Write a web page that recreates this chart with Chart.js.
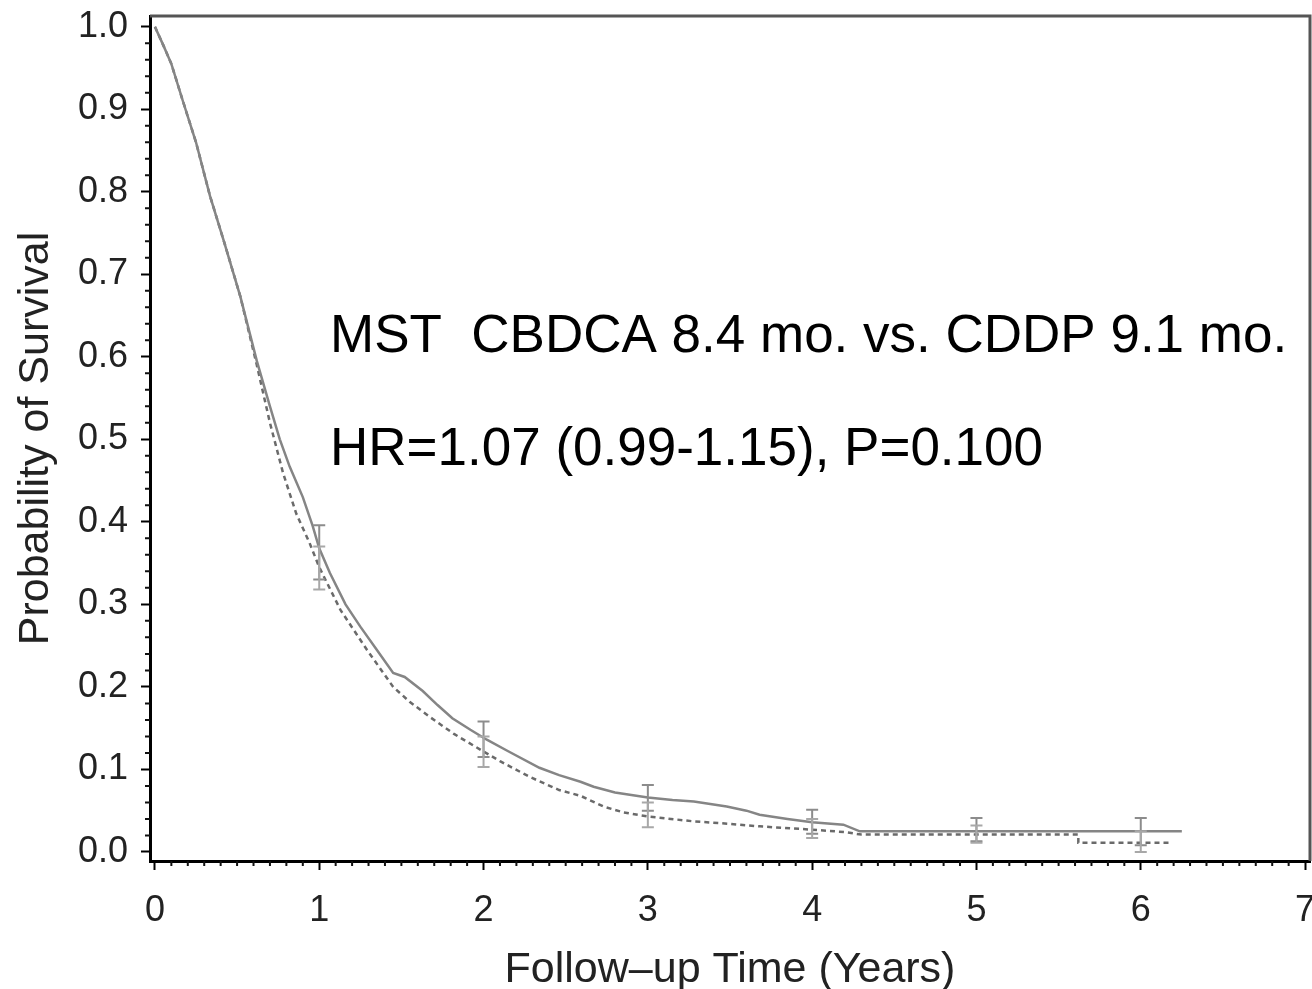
<!DOCTYPE html>
<html>
<head>
<meta charset="utf-8">
<title>Kaplan-Meier survival: CBDCA vs CDDP</title>
<script src="https://cdn.jsdelivr.net/npm/chart.js@4"></script>
<style>
  html, body { margin: 0; padding: 0; background: #fff; overflow: hidden; }
  canvas { display: block; }
</style>
</head>
<body>
<canvas id="km" width="1312" height="989"></canvas>
<script>
// Kaplan-Meier overall survival, two arms

// solid curve (CDDP)
const cddpTime = [0, 0.05, 0.1, 0.17, 0.25, 0.335, 0.42, 0.52, 0.62, 0.7, 0.76, 0.82, 0.9, 0.96,
    1.0, 1.065, 1.16, 1.25, 1.35, 1.45, 1.52, 1.63, 1.72, 1.81, 1.92, 2.02, 2.15, 2.34, 2.46,
    2.59, 2.67, 2.8, 3.0, 3.15, 3.28, 3.48, 3.6, 3.68, 3.85, 4.0, 4.19, 4.29, 6.25];
const cddpSurv = [1.0, 0.978, 0.955, 0.91, 0.86, 0.795, 0.74, 0.673, 0.595, 0.54, 0.5, 0.467, 0.43, 0.395,
    0.368, 0.338, 0.3, 0.273, 0.245, 0.217, 0.212, 0.195, 0.178, 0.162, 0.148, 0.136, 0.122, 0.102, 0.093,
    0.085, 0.079, 0.072, 0.066, 0.063, 0.061, 0.055, 0.05, 0.045, 0.04, 0.036, 0.033, 0.025, 0.025];

// dashed curve (CBDCA)
const cbdcaTime = [0, 0.05, 0.1, 0.17, 0.25, 0.335, 0.42, 0.52, 0.62, 0.7, 0.78, 0.86, 0.94, 1.0,
    1.13, 1.29, 1.45, 1.55, 1.67, 1.82, 1.98, 2.1, 2.28, 2.46, 2.59, 2.73, 2.85, 3.0, 3.28, 3.5,
    3.68, 4.0, 4.2, 4.3, 5.62, 5.62, 6.18];
const cbdcaSurv = [1.0, 0.978, 0.955, 0.91, 0.86, 0.795, 0.74, 0.673, 0.59, 0.52, 0.459, 0.41, 0.375, 0.345,
    0.293, 0.245, 0.2, 0.182, 0.164, 0.143, 0.124, 0.11, 0.091, 0.075, 0.068, 0.055, 0.048, 0.043, 0.037, 0.034,
    0.031, 0.027, 0.024, 0.021, 0.021, 0.011, 0.011];

// confidence bars at whole years
const barYears = [1, 2, 3, 4, 5, 6];
const cddpLow  = [0.33, 0.115, 0.05, 0.022, 0.013, 0.008];
const cddpHigh = [0.396, 0.158, 0.081, 0.051, 0.041, 0.041];
const cbdcaLow  = [0.318, 0.103, 0.03, 0.017, 0.011, 0.0];
const cbdcaHigh = [0.37, 0.14, 0.06, 0.04, 0.032, 0.025];

const xTicks = [0, 1, 2, 3, 4, 5, 6, 7];
const yTicks = [0, 0.1, 0.2, 0.3, 0.4, 0.5, 0.6, 0.7, 0.8, 0.9, 1.0];

const noteLines = ['MST  CBDCA 8.4 mo. vs. CDDP 9.1 mo.', 'HR=1.07 (0.99-1.15), P=0.100'];

const FONT = 'Arial, "Liberation Sans", sans-serif';

function toPoints(ts, vs) {
    return ts.map(function (t, i) { return { x: t, y: vs[i] }; });
}

// frame, minor ticks, error bars and the annotation text
const extrasPlugin = {
    id: 'kmExtras',
    afterDatasetsDraw: function (chart) {
        const ctx = chart.ctx;
        const x = chart.scales.x, y = chart.scales.y;
        const a = chart.chartArea;
        ctx.save();

        // error bars
        function bar(t, lo, hi, color) {
            const px = x.getPixelForValue(t);
            const p1 = y.getPixelForValue(lo), p2 = y.getPixelForValue(hi);
            ctx.strokeStyle = color;
            ctx.lineWidth = 2;
            ctx.beginPath();
            ctx.moveTo(px, p1); ctx.lineTo(px, p2);
            ctx.moveTo(px - 6, p1); ctx.lineTo(px + 6, p1);
            ctx.moveTo(px - 6, p2); ctx.lineTo(px + 6, p2);
            ctx.stroke();
        }
        barYears.forEach(function (t, i) {
            bar(t, cddpLow[i], cddpHigh[i], '#8c8c8c');
            bar(t, cbdcaLow[i], cbdcaHigh[i], '#a8a8a8');
        });

        // top and right frame
        ctx.strokeStyle = '#555';
        ctx.lineWidth = 3;
        ctx.beginPath();
        ctx.moveTo(a.left, a.top); ctx.lineTo(a.right, a.top); ctx.lineTo(a.right, a.bottom);
        ctx.stroke();

        // minor ticks
        ctx.strokeStyle = '#111';
        ctx.lineWidth = 2;
        ctx.beginPath();
        for (let k = 0; k <= 70; k++) {
            if (k % 10 === 0) continue;
            const px = x.getPixelForValue(k / 10);
            ctx.moveTo(px, a.bottom); ctx.lineTo(px, a.bottom + 5);
        }
        for (let k = 0; k <= 50; k++) {
            if (k % 5 === 0) continue;
            const py = y.getPixelForValue(k / 50);
            ctx.moveTo(a.left, py); ctx.lineTo(a.left - 5, py);
        }
        ctx.stroke();

        // annotation
        ctx.fillStyle = '#000';
        ctx.font = '53px ' + FONT;
        ctx.textAlign = 'left';
        ctx.textBaseline = 'alphabetic';
        ctx.fillText(noteLines[0], 330, 352);
        ctx.fillText(noteLines[1], 330, 465);
        ctx.restore();
    }
};

new Chart(document.getElementById('km'), {
    type: 'line',
    data: {
        datasets: [
            {
                label: 'CDDP',
                data: toPoints(cddpTime, cddpSurv),
                borderColor: '#858585',
                borderWidth: 2.5,
                pointRadius: 0,
                tension: 0
            },
            {
                label: 'CBDCA',
                data: toPoints(cbdcaTime, cbdcaSurv),
                borderColor: '#6a6a6a',
                borderWidth: 2.5,
                borderDash: [5, 4],
                pointRadius: 0,
                tension: 0
            }
        ]
    },
    options: {
        responsive: false,
        animation: false,
        events: [],
        layout: { padding: { top: 16, right: 2, left: 0, bottom: 0 } },
        plugins: { legend: { display: false }, tooltip: { enabled: false } },
        scales: {
            x: {
                type: 'linear',
                min: -0.03, max: 7.03,
                afterBuildTicks: function (s) { s.ticks = xTicks.map(function (v) { return { value: v }; }); },
                afterFit: function (s) { s.height = 128; s.paddingLeft = 0; s.paddingRight = 0; },
                ticks: { font: { size: 36, family: FONT }, color: '#222', padding: 19, maxRotation: 0,
                         callback: function (v) { return String(v); } },
                grid: { drawOnChartArea: false, tickLength: 9, tickWidth: 2, color: '#000' },
                border: { color: '#000', width: 3 },
                title: { display: true, text: 'Follow–up Time (Years)', color: '#222',
                         font: { size: 43, family: FONT }, padding: { top: 0, bottom: -7 } }
            },
            y: {
                type: 'linear',
                min: -0.011, max: 1.013,
                afterBuildTicks: function (s) { s.ticks = yTicks.map(function (v) { return { value: v }; }); },
                afterFit: function (s) { s.width = 150; s.paddingTop = 0; s.paddingBottom = 0; },
                ticks: { font: { size: 36, family: FONT }, color: '#222', padding: 13,
                         callback: function (v) { return Number(v).toFixed(1); } },
                grid: { drawOnChartArea: false, tickLength: 9, tickWidth: 2, color: '#000' },
                border: { color: '#000', width: 3 },
                title: { display: true, text: 'Probability of Survival', color: '#222',
                         font: { size: 43, family: FONT }, padding: { top: 10, bottom: 0 } }
            }
        }
    },
    plugins: [extrasPlugin]
});
</script>
</body>
</html>
